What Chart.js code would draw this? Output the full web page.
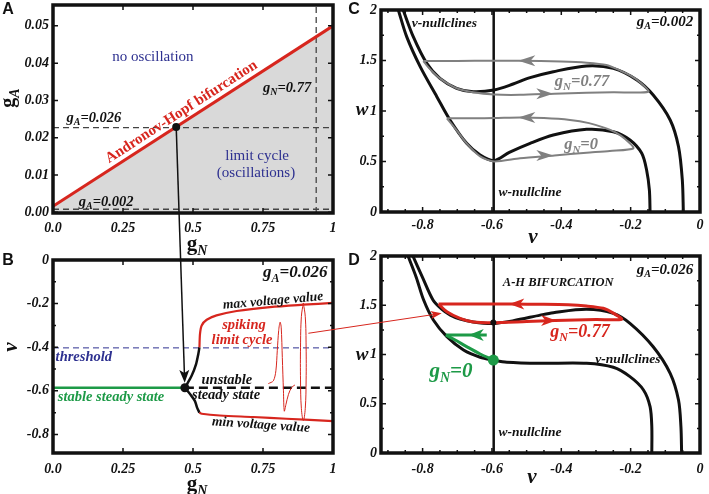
<!DOCTYPE html>
<html lang="en">
<head>
<meta charset="UTF-8">
<title>Bifurcation panels</title>
<style>
  body { margin: 0; background: #fff; }
  #wrap { position: relative; width: 709px; height: 494px; }
  #wrap canvas { position: absolute; left: 0; top: 0; }
</style>
</head>
<body>
<div id="wrap">
  <canvas id="chartA" width="709" height="494"></canvas>
  <canvas id="chartB" width="709" height="494"></canvas>
  <canvas id="chartC" width="709" height="494"></canvas>
  <canvas id="chartD" width="709" height="494"></canvas>
</div>
<script src="https://cdn.jsdelivr.net/npm/chart.js@4.4.1/dist/chart.umd.min.js"></script>
<script>
const RED = '#d7261e', GREEN = '#1d9a47', NAVY = '#2e3190', GRAY = '#808080', SHADE = '#d9d9d9';

// ---- panel A: (gN, gA) plane ----
const aGN = [0, 1];
const aHopfGA = [0.0016, 0.05];
const aLevelGA026 = 0.0227;
const aLevelGA002 = 0.0008;
const aLevelGN077 = 0.94;
const aHopfPoint = { gN: 0.44, gA: 0.0229 };
const aYTicks = [0, 0.01, 0.02, 0.03, 0.04, 0.05];
const aYLabels = ['0.00', '0.01', '0.02', '0.03', '0.04', '0.05'];
const gNTicks = [0, 0.25, 0.5, 0.75, 1];
const gNLabels = ['0.0', '0.25', '0.5', '0.75', '1'];

// ---- panel B: v versus gN at gA = 0.026 ----
const bStableGN = [0, 0.471];
const bUnstableGN = [0.471, 1];
const bSteadyV = -0.586;
const bThresholdV = -0.403;
const bHopfPoint = { gN: 0.471, v: -0.586 };
const bUpperBlackGN = [0.471, 0.495, 0.511, 0.519, 0.523];
const bUpperBlackV = [-0.586, -0.531, -0.477, -0.431, -0.40];
const bUpperRedGN = [0.523, 0.525, 0.531, 0.549, 0.584, 0.656, 0.775, 0.894, 1.0];
const bUpperRedV = [-0.40, -0.339, -0.30, -0.274, -0.254, -0.234, -0.216, -0.205, -0.197];
const bLowerBlackGN = [0.471, 0.492, 0.507, 0.515, 0.523];
const bLowerBlackV = [-0.586, -0.619, -0.647, -0.678, -0.70];
const bLowerRedGN = [0.523, 0.531, 0.596, 0.715, 0.834, 1.0];
const bLowerRedV = [-0.70, -0.705, -0.713, -0.72, -0.728, -0.739];
const bSpikeGN = [0.769, 0.787, 0.796, 0.801, 0.806, 0.811, 0.815, 0.819, 0.823, 0.826, 0.832, 0.841, 0.852, 0.864];
const bSpikeV = [-0.567, -0.554, -0.508, -0.416, -0.323, -0.285, -0.308, -0.447, -0.60, -0.693, -0.662, -0.616, -0.585, -0.573];
const bLoopGN = [0.894, 0.901, 0.904, 0.904, 0.901, 0.894, 0.887, 0.884, 0.884, 0.887, 0.894];
const bLoopV = [-0.197, -0.26, -0.4, -0.55, -0.68, -0.736, -0.68, -0.55, -0.4, -0.26, -0.197];
const bYTicks = [-0.8, -0.6, -0.4, -0.2, 0];
const bYLabels = ['-0.8', '-0.6', '-0.4', '-0.2', '0'];

// ---- panels C and D: phase plane (v, w) ----
const vTicks = [-0.8, -0.6, -0.4, -0.2, 0];
const vLabels = ['-0.8', '-0.6', '-0.4', '-0.2', '0'];
const wTicks = [0, 0.5, 1, 1.5, 2];
const wLabels = ['0', '0.5', '1', '1.5', '2'];
const wNullV = -0.595;

const cNull0V = [-0.87, -0.846, -0.807, -0.759, -0.721, -0.673, -0.634, -0.594, -0.55, -0.49, -0.423, -0.327, -0.25, -0.202, -0.168, -0.154, -0.146, -0.144];
const cNull0W = [2.0, 1.736, 1.439, 1.142, 0.911, 0.68, 0.564, 0.508, 0.59, 0.68, 0.762, 0.819, 0.795, 0.713, 0.581, 0.416, 0.218, 0];
const cNull77V = [-0.856, -0.827, -0.788, -0.75, -0.702, -0.654, -0.594, -0.539, -0.49, -0.423, -0.327, -0.25, -0.182, -0.135, -0.086, -0.062, -0.051, -0.048];
const cNull77W = [2.0, 1.736, 1.472, 1.323, 1.225, 1.191, 1.208, 1.267, 1.33, 1.389, 1.446, 1.422, 1.307, 1.158, 0.911, 0.647, 0.317, 0];
const cCycle77V = [-0.798, -0.70, -0.60, -0.519, -0.40, -0.327, -0.27, -0.23, -0.20, -0.175, -0.149, -0.25, -0.327, -0.42, -0.519, -0.594, -0.654, -0.702, -0.75, -0.78, -0.798];
const cCycle77W = [1.495, 1.496, 1.497, 1.498, 1.49, 1.478, 1.455, 1.40, 1.35, 1.29, 1.191, 1.186, 1.181, 1.172, 1.16, 1.163, 1.185, 1.225, 1.323, 1.42, 1.495];
const cCycle0V = [-0.73, -0.65, -0.594, -0.519, -0.45, -0.375, -0.32, -0.279, -0.245, -0.215, -0.192, -0.26, -0.327, -0.42, -0.519, -0.594, -0.634, -0.673, -0.70, -0.73];
const cCycle0W = [0.928, 0.929, 0.93, 0.935, 0.93, 0.911, 0.88, 0.838, 0.79, 0.72, 0.63, 0.605, 0.587, 0.56, 0.532, 0.50, 0.55, 0.68, 0.80, 0.928];

const dNull0V = [-0.842, -0.818, -0.797, -0.769, -0.73, -0.682, -0.634, -0.596, -0.557, -0.461, -0.327, -0.25, -0.202, -0.163, -0.144, -0.139, -0.139];
const dNull0W = [2.0, 1.78, 1.553, 1.35, 1.181, 1.046, 0.972, 0.944, 0.922, 0.911, 0.911, 0.87, 0.775, 0.64, 0.47, 0.267, 0];
const dNull77V = [-0.828, -0.80, -0.77, -0.745, -0.72, -0.692, -0.654, -0.596, -0.538, -0.461, -0.423, -0.327, -0.25, -0.202, -0.135, -0.086, -0.062, -0.055, -0.053];
const dNull77W = [2.0, 1.78, 1.553, 1.46, 1.40, 1.36, 1.33, 1.315, 1.343, 1.40, 1.425, 1.459, 1.418, 1.317, 1.079, 0.809, 0.538, 0.267, 0];
const dCycleV = [-0.754, -0.65, -0.545, -0.45, -0.38, -0.327, -0.279, -0.25, -0.226, -0.30, -0.418, -0.50, -0.596, -0.654, -0.692, -0.73, -0.754];
const dCycleW = [1.513, 1.513, 1.512, 1.51, 1.505, 1.492, 1.469, 1.42, 1.357, 1.355, 1.345, 1.335, 1.322, 1.33, 1.367, 1.434, 1.513];
const dGreenV = [-0.596, -0.634, -0.673, -0.706, -0.733];
const dGreenW = [0.944, 1.005, 1.08, 1.147, 1.198];
const dGreenArrowV = [-0.733, -0.615];
const dGreenArrowW = [1.198, 1.198];
const dStablePoint = { v: -0.596, w: 0.944 };
const dUnstablePoint = { v: -0.596, w: 1.325 };

// helpers
function pts(xs, ys) {
  return xs.map((x, i) => ({ x: x, y: Array.isArray(ys) ? ys[i] : ys }));
}
function line(data, color, width, extra) {
  return Object.assign({ data: data, borderColor: color, borderWidth: width, pointRadius: 0, fill: false, tension: 0 }, extra || {});
}
function dot(p, color, r) {
  return { data: [p], showLine: false, pointRadius: r, pointBackgroundColor: color, pointBorderWidth: 0, borderColor: color };
}

const TICK_FONT = { family: '"Liberation Serif"', size: 14, style: 'italic', weight: 'bold' };

function axis(min, max, ticks, labels, isX, pad) {
  return {
    type: 'linear', min: min, max: max,
    grid: { display: false, drawTicks: false },
    border: { display: false },
    afterBuildTicks: s => { s.ticks = ticks.map(v => ({ value: v })); },
    afterFit: s => {
      if (isX) { s.height = 30; s.paddingLeft = 0; s.paddingRight = 0; }
      else { s.width = 40; s.paddingTop = 0; s.paddingBottom = 0; }
    },
    ticks: { autoSkip: false, maxRotation: 0, padding: pad, color: '#111', font: TICK_FONT, callback: (v, i) => labels[i] }
  };
}

function options(box, xAxis, yAxis) {
  return {
    responsive: false, animation: false, events: [],
    layout: { padding: { left: box.left - 40, top: box.top, right: 709 - box.right, bottom: 494 - box.bottom - 30 } },
    plugins: { legend: { display: false }, tooltip: { enabled: false }, filler: { drawTime: 'beforeDatasetsDraw' } },
    scales: { x: xAxis, y: yAxis }
  };
}

// rich text: "g_A=0.026" -> g, subscript A, =0.026
function rich(ctx, s, x, y, o) {
  const sz = o.size;
  const wt = o.bold === false ? '' : 'bold ';
  const it = o.italic === false ? '' : 'italic ';
  const fam = o.sans ? '"Liberation Sans"' : '"Liberation Serif"';
  const main = it + wt + sz + 'px ' + fam;
  const sub = 'italic ' + wt + Math.round(sz * 0.68) + 'px ' + fam;
  const k = s.indexOf('_');
  const parts = k < 0 ? [[s, main, 0]] : [[s.slice(0, k), main, 0], [s[k + 1], sub, sz * 0.32], [s.slice(k + 2), main, 0]];
  ctx.save();
  ctx.translate(x, y);
  if (o.angle) ctx.rotate(o.angle * Math.PI / 180);
  ctx.fillStyle = o.color || '#111';
  ctx.textBaseline = 'middle';
  ctx.textAlign = 'left';
  let total = 0;
  parts.forEach(p => { ctx.font = p[1]; p.push(ctx.measureText(p[0]).width); total += p[3]; });
  let cx = -total / 2;
  parts.forEach(p => { ctx.font = p[1]; ctx.fillText(p[0], cx, p[2]); cx += p[3]; });
  ctx.restore();
}

function drawHead(ctx, px, py, dir, color, len, half) {
  ctx.save();
  ctx.fillStyle = color;
  ctx.beginPath();
  ctx.moveTo(px, py);
  ctx.lineTo(px - dir * len, py - half);
  ctx.lineTo(px - dir * len * 0.72, py);
  ctx.lineTo(px - dir * len, py + half);
  ctx.closePath();
  ctx.fill();
  ctx.restore();
}

// straight arrow between two pixel points, tip stops `gap` short of the target
function drawArrow(ctx, from, to, color, width, len, half, gap) {
  const dx = to[0] - from[0], dy = to[1] - from[1];
  const d = Math.hypot(dx, dy), ux = dx / d, uy = dy / d;
  const tx = to[0] - ux * gap, ty = to[1] - uy * gap;
  ctx.save();
  ctx.strokeStyle = color; ctx.fillStyle = color; ctx.lineWidth = width;
  ctx.beginPath();
  ctx.moveTo(from[0], from[1]);
  ctx.lineTo(tx - ux * len * 0.7, ty - uy * len * 0.7);
  ctx.stroke();
  ctx.beginPath();
  ctx.moveTo(tx, ty);
  ctx.lineTo(tx - ux * len - uy * half, ty - uy * len + ux * half);
  ctx.lineTo(tx - ux * len * 0.75, ty - uy * len * 0.75);
  ctx.lineTo(tx - ux * len + uy * half, ty - uy * len - ux * half);
  ctx.closePath();
  ctx.fill();
  ctx.restore();
}

// per-panel decorations: annotation texts, arrow heads, frame with inward ticks
const PANEL = {
  chartA: {
    minorX: 0, minorY: 0,
    heads: [],
    notes: [
      { t: 'no oscillation', x: 0.357, y: 0.0416, size: 15, color: NAVY, bold: false, italic: false },
      { t: 'Andronov-Hopf bifurcation', x: 0.459, y: 0.0269, size: 15, color: RED, italic: false, angle: -32.8 },
      { t: 'g_N=0.77', x: 0.836, y: 0.0334, size: 14.5 },
      { t: 'g_A=0.026', x: 0.146, y: 0.0253, size: 14.5 },
      { t: 'limit cycle', x: 0.729, y: 0.0151, size: 15, color: NAVY, bold: false, italic: false },
      { t: '(oscillations)', x: 0.725, y: 0.0105, size: 15, color: NAVY, bold: false, italic: false },
      { t: 'g_A=0.002', x: 0.19, y: 0.00275, size: 14.5 }
    ],
    pixelNotes: [
      { t: 'A', px: 8, py: 10, size: 16, sans: true, italic: false },
      { t: 'g_A', px: 9, py: 98, size: 20, italic: false, angle: -90 },
      { t: 'g_N', px: 197, py: 245, size: 21, italic: false }
    ]
  },
  chartB: {
    minorX: 0, minorY: 0.1,
    heads: [],
    notes: [
      { t: 'g_A=0.026', x: 0.865, y: -0.06, size: 17 },
      { t: 'max voltage value', x: 0.786, y: -0.188, size: 13.5, angle: -5 },
      { t: 'spiking', x: 0.682, y: -0.298, size: 14.5, color: RED },
      { t: 'limit cycle', x: 0.675, y: -0.367, size: 14.5, color: RED },
      { t: 'threshold', x: 0.11, y: -0.445, size: 14.5, color: NAVY },
      { t: 'unstable', x: 0.621, y: -0.55, size: 14.5 },
      { t: 'steady state', x: 0.618, y: -0.619, size: 14.5 },
      { t: 'stable steady state', x: 0.207, y: -0.628, size: 14.5, color: GREEN },
      { t: 'min voltage value', x: 0.743, y: -0.757, size: 13.5, angle: 4 }
    ],
    pixelNotes: [
      { t: 'B', px: 8, py: 261, size: 16, sans: true, italic: false },
      { t: 'v', px: 12, py: 347, size: 21, angle: -90 },
      { t: 'g_N', px: 197, py: 485, size: 21, italic: false }
    ]
  },
  chartC: {
    minorX: 0.05, minorY: 0.25,
    heads: [
      { x: -0.524, y: 1.497, dir: -1, color: GRAY, len: 17, half: 5.5 },
      { x: -0.423, y: 1.172, dir: 1, color: GRAY, len: 17, half: 5.5 },
      { x: -0.524, y: 0.935, dir: -1, color: GRAY, len: 17, half: 5.5 },
      { x: -0.423, y: 0.56, dir: 1, color: GRAY, len: 17, half: 5.5 }
    ],
    notes: [
      { t: 'v-nullclines', x: -0.737, y: 1.871, size: 13.5 },
      { t: 'g_A=0.002', x: -0.101, y: 1.881, size: 15 },
      { t: 'g_N=0.77', x: -0.34, y: 1.287, size: 16.5, color: GRAY },
      { t: 'g_N=0', x: -0.343, y: 0.663, size: 16.5, color: GRAY },
      { t: 'w-nullcline', x: -0.49, y: 0.188, size: 13.5 }
    ],
    pixelNotes: [
      { t: 'C', px: 354, py: 10, size: 16, sans: true, italic: false },
      { t: 'w', px: 362, py: 110, size: 19 },
      { t: 'v', px: 533, py: 238, size: 21 }
    ]
  },
  chartD: {
    minorX: 0.05, minorY: 0.25,
    heads: [
      { x: -0.55, y: 1.512, dir: -1, color: RED, len: 15, half: 5.5 },
      { x: -0.415, y: 1.345, dir: 1, color: RED, len: 15, half: 5.5 },
      { x: -0.667, y: 1.198, dir: -1, color: GREEN, len: 15, half: 6 }
    ],
    notes: [
      { t: 'A-H BIFURCATION', x: -0.409, y: 1.726, size: 12.5 },
      { t: 'g_A=0.026', x: -0.101, y: 1.858, size: 15 },
      { t: 'g_N=0.77', x: -0.346, y: 1.228, size: 18, color: RED },
      { t: 'v-nullclines', x: -0.208, y: 0.954, size: 13.5 },
      { t: 'g_N=0', x: -0.718, y: 0.822, size: 21, color: GREEN },
      { t: 'w-nullcline', x: -0.49, y: 0.203, size: 13.5 }
    ],
    pixelNotes: [
      { t: 'D', px: 354, py: 261, size: 16, sans: true, italic: false },
      { t: 'w', px: 362, py: 355, size: 19 },
      { t: 'v', px: 532, py: 478, size: 21 }
    ]
  }
};

const panelPlugin = {
  id: 'panel',
  afterDatasetsDraw(chart) {
    const cfg = PANEL[chart.canvas.id];
    const ctx = chart.ctx, xs = chart.scales.x, ys = chart.scales.y;
    cfg.heads.forEach(h => drawHead(ctx, xs.getPixelForValue(h.x), ys.getPixelForValue(h.y), h.dir, h.color, h.len, h.half));
    const a = chart.chartArea;
    ctx.save();
    ctx.strokeStyle = '#111';
    ctx.lineWidth = 1.5;
    ctx.beginPath();
    xs.ticks.forEach(t => {
      const p = xs.getPixelForValue(t.value);
      ctx.moveTo(p, a.bottom); ctx.lineTo(p, a.bottom - 5);
      ctx.moveTo(p, a.top); ctx.lineTo(p, a.top + 5);
    });
    ys.ticks.forEach(t => {
      const p = ys.getPixelForValue(t.value);
      ctx.moveTo(a.left, p); ctx.lineTo(a.left + 5, p);
      ctx.moveTo(a.right, p); ctx.lineTo(a.right - 5, p);
    });
    if (cfg.minorX) {
      for (let v = Math.ceil(xs.min / cfg.minorX) * cfg.minorX; v <= xs.max + 1e-9; v += cfg.minorX) {
        const p = xs.getPixelForValue(v);
        ctx.moveTo(p, a.bottom); ctx.lineTo(p, a.bottom - 3);
        ctx.moveTo(p, a.top); ctx.lineTo(p, a.top + 3);
      }
    }
    if (cfg.minorY) {
      for (let v = Math.ceil(ys.min / cfg.minorY) * cfg.minorY; v <= ys.max + 1e-9; v += cfg.minorY) {
        const p = ys.getPixelForValue(v);
        ctx.moveTo(a.left, p); ctx.lineTo(a.left + 3, p);
        ctx.moveTo(a.right, p); ctx.lineTo(a.right - 3, p);
      }
    }
    ctx.stroke();
    ctx.lineWidth = 3.5;
    ctx.strokeRect(a.left, a.top, a.right - a.left, a.bottom - a.top);
    ctx.restore();
  },
  afterDraw(chart) {
    const cfg = PANEL[chart.canvas.id];
    const ctx = chart.ctx, xs = chart.scales.x, ys = chart.scales.y;
    cfg.notes.forEach(n => rich(ctx, n.t, xs.getPixelForValue(n.x), ys.getPixelForValue(n.y), n));
    cfg.pixelNotes.forEach(n => rich(ctx, n.t, n.px, n.py, n));
  }
};

// ---- build charts ----
const chartA = new Chart(document.getElementById('chartA'), {
  type: 'line',
  data: {
    datasets: [
      dot({ x: aHopfPoint.gN, y: aHopfPoint.gA }, '#111', 4),
      line(pts(aGN, aHopfGA), RED, 3),
      line(pts(aGN, aLevelGA026), '#444', 1.3, { borderDash: [6, 4] }),
      line(pts(aGN, aLevelGA002), '#444', 1.3, { borderDash: [6, 4] }),
      line(pts([aLevelGN077, aLevelGN077], [-0.0002, 0.0556]), '#444', 1.3, { borderDash: [6, 4] }),
      line(pts(aGN, aHopfGA), SHADE, 0, { fill: 'start', backgroundColor: SHADE })
    ]
  },
  options: options({ left: 53, right: 333, top: 5, bottom: 213 },
    axis(0, 1, gNTicks, gNLabels, true, 7),
    axis(-0.0002, 0.0556, aYTicks, aYLabels, false, 4)),
  plugins: [panelPlugin]
});

const chartB = new Chart(document.getElementById('chartB'), {
  type: 'line',
  data: {
    datasets: [
      dot({ x: bHopfPoint.gN, y: bHopfPoint.v }, '#111', 4.5),
      line(pts(bSpikeGN, bSpikeV), RED, 1, { tension: 0.3 }),
      line(pts(bLoopGN, bLoopV), RED, 1, { tension: 0.4 }),
      line(pts(bUpperRedGN, bUpperRedV), RED, 2.2, { tension: 0.3 }),
      line(pts(bLowerRedGN, bLowerRedV), RED, 2.2, { tension: 0.3 }),
      line(pts(bUpperBlackGN, bUpperBlackV), '#111', 2.5, { tension: 0.3 }),
      line(pts(bLowerBlackGN, bLowerBlackV), '#111', 2.5, { tension: 0.3 }),
      line(pts(bStableGN, bSteadyV), GREEN, 2.5),
      line(pts(bUnstableGN, bSteadyV), '#111', 2.5, { borderDash: [9, 5] }),
      line(pts(aGN, bThresholdV), NAVY, 1, { borderDash: [6, 4] })
    ]
  },
  options: options({ left: 53, right: 333, top: 260, bottom: 453 },
    axis(0, 1, gNTicks, gNLabels, true, 8),
    axis(-0.885, 0, bYTicks, bYLabels, false, 4)),
  plugins: [panelPlugin]
});

const chartC = new Chart(document.getElementById('chartC'), {
  type: 'line',
  data: {
    datasets: [
      line(pts(cCycle77V, cCycle77W), GRAY, 2, { tension: 0.25 }),
      line(pts(cCycle0V, cCycle0W), GRAY, 2, { tension: 0.25 }),
      line(pts(cNull77V, cNull77W), '#111', 3, { tension: 0.3 }),
      line(pts(cNull0V, cNull0W), '#111', 3, { tension: 0.3 }),
      line(pts([wNullV, wNullV], [0, 2]), '#111', 2.5)
    ]
  },
  options: options({ left: 381, right: 700, top: 10, bottom: 212 },
    axis(-0.92, 0, vTicks, vLabels, true, 5),
    axis(0, 2, wTicks, wLabels, false, 4)),
  plugins: [panelPlugin]
});

// page-wide arrows linking the panels
const linkPlugin = {
  id: 'links',
  afterDraw(chart) {
    const ctx = chart.ctx;
    const a = chartA.scales, b = chartB.scales, d = chart.scales;
    drawArrow(ctx,
      [a.x.getPixelForValue(aHopfPoint.gN), a.y.getPixelForValue(aHopfPoint.gA)],
      [b.x.getPixelForValue(bHopfPoint.gN), b.y.getPixelForValue(bHopfPoint.v)],
      '#111', 1.5, 13, 5, 5);
    drawArrow(ctx,
      [b.x.getPixelForValue(0.912), b.y.getPixelForValue(-0.336)],
      [d.x.getPixelForValue(-0.745), d.y.getPixelForValue(1.418)],
      RED, 1, 11, 4, 0);
  }
};

const chartD = new Chart(document.getElementById('chartD'), {
  type: 'line',
  data: {
    datasets: [
      dot({ x: dUnstablePoint.v, y: dUnstablePoint.w }, '#111', 3),
      dot({ x: dStablePoint.v, y: dStablePoint.w }, GREEN, 5.5),
      line(pts(dCycleV, dCycleW), RED, 3, { tension: 0.25 }),
      line(pts(dGreenV, dGreenW), GREEN, 3, { tension: 0.3 }),
      line(pts(dGreenArrowV, dGreenArrowW), GREEN, 3),
      line(pts(dNull77V, dNull77W), '#111', 3, { tension: 0.3 }),
      line(pts(dNull0V, dNull0W), '#111', 3, { tension: 0.3 }),
      line(pts([wNullV, wNullV], [0, 2]), '#111', 2.5)
    ]
  },
  options: options({ left: 381, right: 700, top: 256, bottom: 453 },
    axis(-0.92, 0, vTicks, vLabels, true, 8),
    axis(0, 2, wTicks, wLabels, false, 4)),
  plugins: [panelPlugin, linkPlugin]
});
</script>
</body>
</html>
